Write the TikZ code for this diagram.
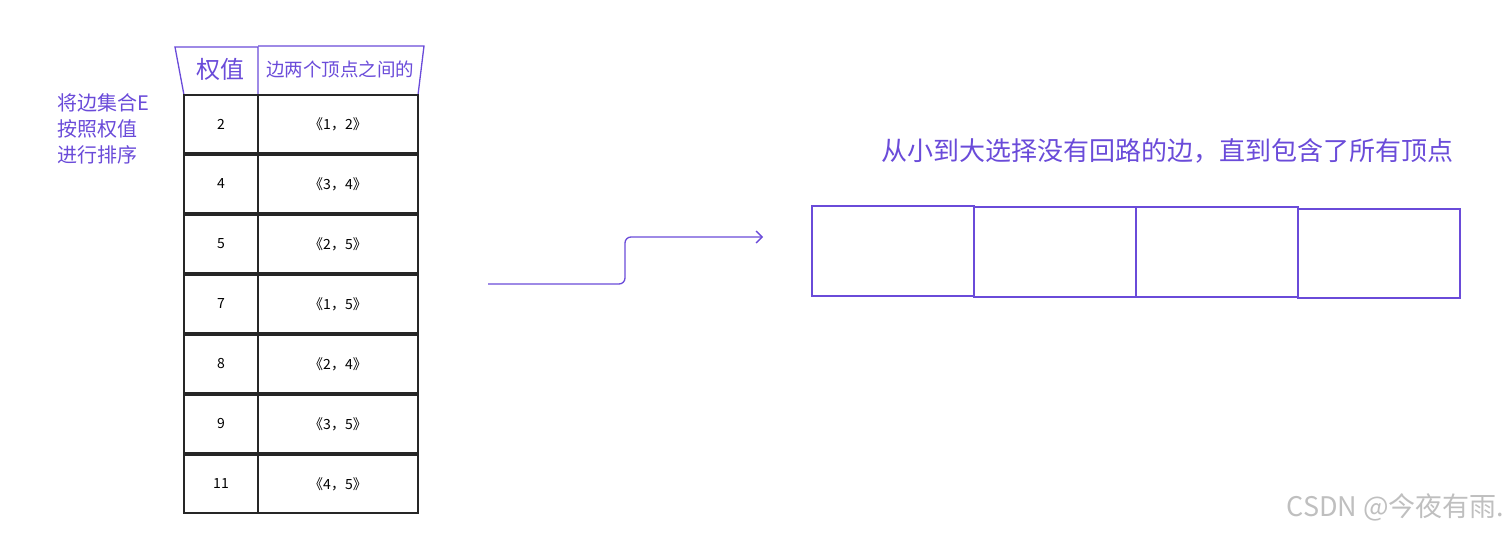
\documentclass[tikz,border=0pt]{standalone}
\usepackage{fontspec}
\usetikzlibrary{arrows.meta}
\setmainfont{Noto Sans CJK SC}
\definecolor{pp}{HTML}{6A4BD9}
\begin{document}
\begin{tikzpicture}[x=1pt,y=-1pt,
  cell/.style={draw=black!85,line width=1.2pt},
  pl/.style={draw=pp,line width=1.3pt},
  num/.style={font=\fontsize{14}{14}\selectfont,text=black}]
\useasboundingbox (0,0) rectangle (1510,533);
% header
\draw[pl] (175,47) -- (258,47) -- (258,95) -- (184,95) -- cycle;
\draw[pl] (258,46) -- (424,46) -- (418,95) -- (258,95);
\node[text=pp,font=\fontsize{24}{24}\selectfont] (h1) at (220,69) {权值};
\node[text=pp,font=\fontsize{18.5}{18.5}\selectfont] (h2) at (340,69) {边两个顶点之间的};
\node[text=pp,font=\fontsize{20}{26}\selectfont,align=left,anchor=north west] (lt) at (54,90) {将边集合E\\按照权值\\进行排序};
% rows
\foreach \w/\e/\t [count=\i from 0] in {2/{《1，2》}/95,4/{《3，4》}/155,5/{《2，5》}/215,7/{《1，5》}/275,8/{《2，4》}/335,9/{《3，5》}/395,11/{《4，5》}/455}{
  \draw[cell] (184,\t) rectangle (258,\t+58);
  \draw[cell] (258,\t) rectangle (418,\t+58);
  \node[num] (w\i) at (221,\t+29) {\w};
  \node[num] (e\i) at (338,\t+29) {\e};
}
% arrow
\coordinate (a0) at (488,284);
\coordinate (a1) at (763,237);
\draw[pp,line width=1.3pt,-{Straight Barb[length=6pt]},rounded corners=6pt] (a0) -- (625,284) -- (625,237) -- (a1);
% title
\node[text=pp,font=\fontsize{26}{26}\selectfont] (tt) at (1167,151) {从小到大选择没有回路的边，直到包含了所有顶点};
% boxes
\draw[pl] (812,206) rectangle (974,296);
\draw[pl] (974,207) rectangle (1136,297);
\draw[pl] (1136,207) rectangle (1298,297);
\draw[pl] (1298,209) rectangle (1460,298);
% watermark
\node[text=black!25,font=\fontsize{27}{27}\selectfont,anchor=east] (wm) at (1508,507) {CSDN @今夜有雨.};
\end{tikzpicture}
\end{document}
